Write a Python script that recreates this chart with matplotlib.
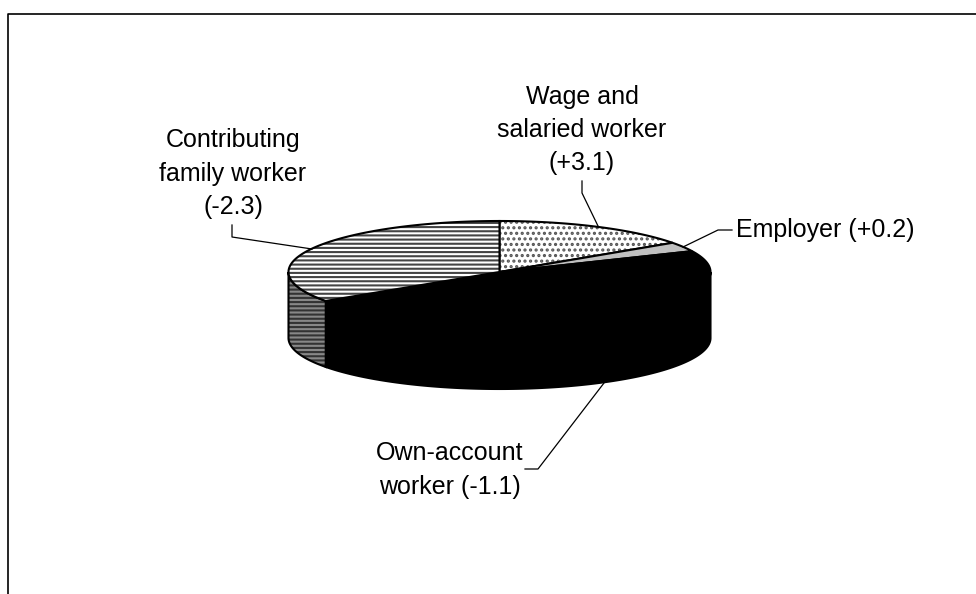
#!/usr/bin/env python3
"""Employment status pie drawn as a tilted 3D disc, with hatched slices."""
import numpy as np
import matplotlib
matplotlib.use("Agg")
import matplotlib.pyplot as plt
from matplotlib.patches import Polygon

plt.rcParams["font.family"] = ["Liberation Sans", "DejaVu Sans"]
plt.rcParams["hatch.linewidth"] = 1.5

# slice shares in percent, clockwise from 12 o'clock
categories = ["Wage and\nsalaried worker\n(+3.1)", "Employer (+0.2)",
              "Own-account\nworker (-1.1)", "Contributing\nfamily worker\n(-2.3)"]
shares = [15.3, 3.0, 47.1, 34.6]

CX, CY, A, B, DEPTH = 499.5, 272, 211, 51, 66


def rim(t):
    t = np.radians(t)
    return CX + A * np.sin(t), CY - B * np.cos(t)


def arc(t0, t1):
    t = np.linspace(t0, t1, 200)
    return np.column_stack(rim(t))


fig = plt.figure(figsize=(9.76, 5.94), dpi=100)
ax = fig.add_axes([0, 0, 1, 1])
ax.set_xlim(0, 976)
ax.set_ylim(594, 0)
ax.axis("off")

# frame, open at the bottom and right
ax.plot([8, 8, 976], [594, 13.5, 13.5], color="k", lw=1.2)

edges = np.concatenate([[0], np.cumsum(shares)]) * 3.6
styles = [
    dict(facecolor="white", hatch="...", edgecolor="#555555"),
    dict(facecolor="#c0c0c0"),
    dict(facecolor="black"),
    dict(facecolor="white", hatch="----", edgecolor="#444444"),
]
sides = [None, None, dict(facecolor="black"),
         dict(facecolor="#888888", hatch="----", edgecolor="#333333")]

# outer wall first, only the part facing the viewer
for i, side in enumerate(sides):
    if side is None:
        continue
    t0, t1 = max(edges[i], 90), min(edges[i + 1], 270)
    top = arc(t0, t1)
    pts = np.vstack([top, (top + [0, DEPTH])[::-1]])
    ax.add_patch(Polygon(pts, closed=True, lw=0, **side))
    ax.add_patch(Polygon(pts, closed=True, fill=False, edgecolor="k", lw=1.5))

# top face
for i, st in enumerate(styles):
    pts = np.vstack([[CX, CY], arc(edges[i], edges[i + 1])])
    ax.add_patch(Polygon(pts, closed=True, lw=0, **st))
    ax.add_patch(Polygon(pts, closed=True, fill=False, edgecolor="k", lw=1.5))

# labels and leaders
ax.text(582, 130, categories[0], ha="center", va="center", fontsize=18, linespacing=1.49)
ax.text(736, 230.5, categories[1], ha="left", va="center", fontsize=18)
ax.text(450, 470, categories[2], ha="center", va="center", fontsize=18, linespacing=1.49)
ax.text(233, 173.5, categories[3], ha="center", va="center", fontsize=18, linespacing=1.49)
ax.plot([582, 582, 598], [181, 193, 226], color="k", lw=0.9)
ax.plot([683, 718, 732], [247, 230, 230], color="k", lw=0.9)
ax.plot([604, 538, 525], [383, 469, 469], color="k", lw=0.9)
ax.plot([232, 232, 312], [225, 237, 249], color="k", lw=0.9)

fig.savefig("out.png", dpi=100)
